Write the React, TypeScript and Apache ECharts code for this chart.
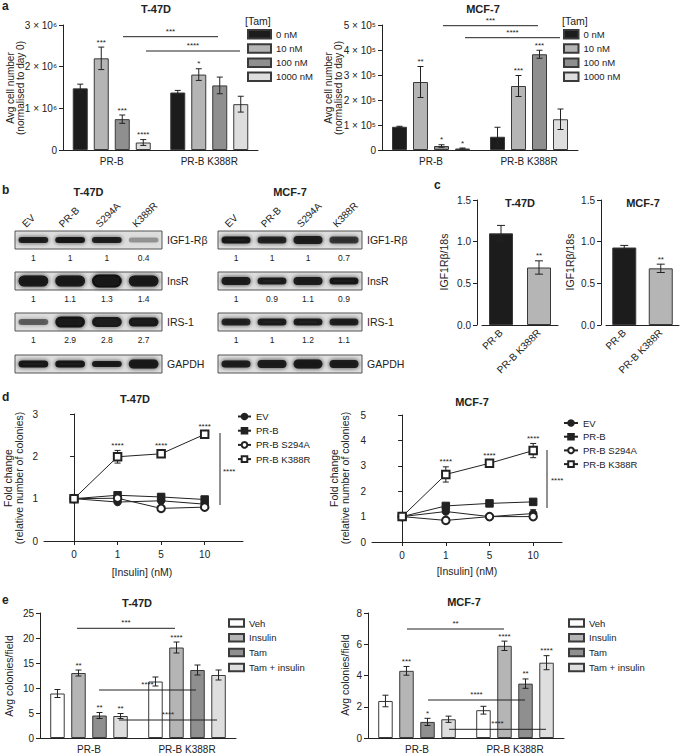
import React, { useEffect, useRef } from "react";
import * as echarts from "echarts";

const FONT = "'Liberation Sans', Arial, Helvetica, sans-serif";
const INK = "#222";

// ---------- panel a : cell number under tamoxifen ----------
const aGroups = ["PR-B", "PR-B K388R"];
const tamLevels = ["0 nM", "10 nM", "100 nM", "1000 nM"];
const tamColors = ["#1c1c1c", "#b5b5b5", "#8f8f8f", "#dedede"];
// per tamoxifen level: [PR-B, PR-B K388R]
const aT47Mean = [[1.48e6, 1.38e6], [2.2e6, 1.81e6], [0.74e6, 1.55e6], [0.18e6, 1.1e6]];
const aT47Err = [[0.1e6, 0.05e6], [0.27e6, 0.14e6], [0.1e6, 0.2e6], [0.07e6, 0.19e6]];
const aT47Stars = [["", ""], ["***", "*"], ["***", ""], ["****", ""]];
const aMcfMean = [[0.93e5, 0.53e5], [2.72e5, 2.56e5], [0.16e5, 3.83e5], [0.06e5, 1.23e5]];
const aMcfErr = [[0.02e5, 0.38e5], [0.62e5, 0.42e5], [0.05e5, 0.16e5], [0.02e5, 0.41e5]];
const aMcfStars = [["", ""], ["**", "***"], ["*", "***"], ["*", ""]];

// ---------- panel b : western blots ----------
const blotLanes = ["EV", "PR-B", "S294A", "K388R"];
const blotProteins = ["IGF1-Rβ", "InsR", "IRS-1", "GAPDH"];
const blotT47Quant = [[1, 1, 1, 0.4], [1, 1.1, 1.3, 1.4], [1, 2.9, 2.8, 2.7]];
const blotMcfQuant = [[1, 1, 1, 0.7], [1, 0.9, 1.1, 0.9], [1, 1, 1.2, 1.1]];

// ---------- panel c : IGF1Rβ mRNA ----------
const cGroups = ["PR-B", "PR-B K388R"];
const cColors = ["#1c1c1c", "#b5b5b5"];
const cT47Mean = [1.1, 0.69];
const cT47Err = [0.095, 0.08];
const cMcfMean = [0.93, 0.68];
const cMcfErr = [0.025, 0.05];
const cStars = ["", "**"];

// ---------- panel d : colony fold change vs insulin ----------
const insulinDoses = ["0", "1", "5", "10"];
const dSeriesNames = ["EV", "PR-B", "PR-B S294A", "PR-B K388R"];
const dSymbols = ["circle", "rect", "emptyCircle", "emptyRect"];
const dT47 = [[1, 0.92, 0.95, 0.87], [1, 1.08, 1.04, 0.98], [1, 1.01, 0.77, 0.8], [1, 1.99, 2.06, 2.52]];
const dT47Err = [[0.05, 0.04, 0.05, 0.04], [0.07, 0.05, 0.07, 0.05], [0.04, 0.03, 0.04, 0.04], [0.07, 0.15, 0.08, 0.06]];
const dT47Stars = ["", "****", "****", "****"];
const dMcf = [[1, 1.2, 1.0, 1.12], [1, 1.42, 1.52, 1.58], [1, 0.85, 1.0, 1.0], [1, 2.66, 3.1, 3.6]];
const dMcfErr = [[0.15, 0.08, 0.05, 0.15], [0.1, 0.08, 0.06, 0.06], [0.08, 0.06, 0.05, 0.05], [0.15, 0.3, 0.1, 0.28]];
const dMcfStars = ["", "****", "****", "****"];

// ---------- panel e : colonies per field ----------
const eGroups = ["PR-B", "PR-B K388R"];
const eTreatments = ["Veh", "Insulin", "Tam", "Tam + insulin"];
const eColors = ["#ffffff", "#b5b5b5", "#8f8f8f", "#dedede"];
const eT47Mean = [[8.9, 11.3], [13.0, 18.1], [4.5, 13.6], [4.4, 12.6]];
const eT47Err = [[0.8, 0.9], [0.6, 1.1], [0.6, 1.0], [0.5, 1.0]];
const eT47Stars = [["", ""], ["**", "****"], ["**", ""], ["**", ""]];
const eMcfMean = [[2.37, 1.78], [4.3, 5.9], [1.03, 3.48], [1.2, 4.82]];
const eMcfErr = [[0.37, 0.25], [0.28, 0.3], [0.23, 0.3], [0.2, 0.45]];
const eMcfStars = [["", ""], ["***", "****"], ["*", "**"], ["", "****"]];

// ---------- helpers ----------
type TxtOpts = { size?: number; bold?: boolean; align?: string; va?: string; rot?: number };
function txt(x: number, y: number, text: string, o: TxtOpts = {}) {
  return {
    type: "text",
    x,
    y,
    z: 100,
    rotation: o.rot ?? 0,
    silent: true,
    style: {
      text,
      fill: INK,
      fontFamily: FONT,
      fontSize: o.size ?? 10,
      fontWeight: o.bold ? "bold" : "normal",
      align: o.align ?? "center",
      verticalAlign: o.va ?? "middle",
    },
  };
}
function seg(x1: number, y1: number, x2: number, y2: number, w = 1) {
  return { type: "line", z: 100, silent: true, shape: { x1, y1, x2, y2 }, style: { stroke: INK, lineWidth: w } };
}
function bracket(x1: number, x2: number, y: number, label: string) {
  return [seg(x1, y, x2, y), txt((x1 + x2) / 2, y - 1.5, label, { size: 8, va: "bottom" })];
}

function errSeries(ax: number, means: number[], errs: number[], stars: string[], dx: number, cap: number, z = 5) {
  return {
    type: "custom",
    xAxisIndex: ax,
    yAxisIndex: ax,
    z,
    silent: true,
    clip: false,
    data: means.map((m, i) => [i, m, errs[i]]),
    encode: { x: 0, y: 1 },
    renderItem: (params: any, api: any) => {
      const i = api.value(0);
      const m = api.value(1);
      const e = api.value(2);
      const pTop = api.coord([i, m + e]);
      const pBot = api.coord([i, Math.max(m - e, 0)]);
      const x = pTop[0] + dx;
      const ls = { stroke: INK, lineWidth: 1 };
      const children: any[] = [
        { type: "line", shape: { x1: x, y1: pTop[1], x2: x, y2: pBot[1] }, style: ls },
        { type: "line", shape: { x1: x - cap, y1: pTop[1], x2: x + cap, y2: pTop[1] }, style: ls },
        { type: "line", shape: { x1: x - cap, y1: pBot[1], x2: x + cap, y2: pBot[1] }, style: ls },
      ];
      const s = stars[params.dataIndex];
      if (s) {
        children.push({
          type: "text",
          x,
          y: pTop[1] - 1,
          style: { text: s, fill: INK, fontFamily: FONT, fontSize: 8, align: "center", verticalAlign: "bottom" },
        });
      }
      return { type: "group", children };
    },
  };
}

const BLOT_TOPS = [231, 272, 313, 355];
const BLOT_H = 18;
// band look per row, per lane: [thickness px, darkness]
const T47_BANDS = [
  [[6, 0.85], [6, 0.9], [6, 0.85], [5, 0.3]],
  [[11, 0.95], [11, 0.95], [13, 0.97], [11, 0.95]],
  [[6, 0.55], [11, 0.9], [10, 0.88], [9, 0.88]],
  [[7, 0.9], [7, 0.9], [6, 0.88], [9, 0.95]],
];
const MCF_BANDS = [
  [[7, 0.9], [7, 0.82], [8, 0.92], [7, 0.72]],
  [[8, 0.92], [7, 0.86], [8, 0.92], [7, 0.9]],
  [[7, 0.82], [7, 0.86], [7, 0.86], [7, 0.84]],
  [[7, 0.92], [8, 0.92], [9, 0.95], [8, 0.92]],
];

function blot(x0: number, w: number, title: string, bands: number[][][], quant: number[][]) {
  const els: any[] = [];
  const laneW = w / blotLanes.length;
  els.push(txt(x0 + w / 2, 192, title, { bold: true, size: 11 }));
  blotLanes.forEach((ln, i) => {
    const cx = x0 + laneW * (i + 0.5);
    els.push(txt(cx - 6, 229, ln, { align: "left", va: "bottom", rot: Math.PI / 4, size: 10 }));
  });
  blotProteins.forEach((p, r) => {
    const top = BLOT_TOPS[r];
    els.push({
      type: "rect",
      silent: true,
      shape: { x: x0, y: top, width: w, height: BLOT_H },
      style: { fill: "#dedede", stroke: "#555", lineWidth: 1 },
    });
    bands[r].forEach(([h, op], i) => {
      const cx = x0 + laneW * (i + 0.5);
      const bw = laneW - 7;
      const col = `rgba(18,18,18,${op})`;
      els.push({
        type: "rect",
        silent: true,
        shape: { x: cx - bw / 2, y: top + BLOT_H / 2 - h / 2, width: bw, height: h, r: h / 2 },
        style: { fill: col, shadowBlur: 4, shadowColor: col },
      });
    });
    els.push(txt(x0 + w + 5, top + BLOT_H / 2, p, { align: "left", size: 10.5 }));
    if (r < quant.length) {
      quant[r].forEach((q, i) => els.push(txt(x0 + laneW * (i + 0.5), top + BLOT_H + 9, String(q), { size: 8.5 })));
    }
  });
  return els;
}

const axisLineCfg = { lineStyle: { color: INK, width: 1 } };
const tickCfg = { length: 4, lineStyle: { color: INK, width: 1 } };
const labelCfg = { color: INK, fontSize: 10, fontFamily: FONT };

function catX(grid: number, data: string[], rotate = 0) {
  return {
    type: "category",
    gridIndex: grid,
    data,
    axisLine: axisLineCfg,
    axisTick: { ...tickCfg, alignWithLabel: true },
    axisLabel: { ...labelCfg, margin: 6, rotate, interval: 0 },
    splitLine: { show: false },
  };
}
function valY(grid: number, min: number, max: number, interval: number, formatter?: any, offset = 0) {
  return {
    type: "value",
    gridIndex: grid,
    min,
    max,
    interval,
    offset,
    axisLine: { show: true, ...axisLineCfg },
    axisTick: { show: true, ...tickCfg },
    axisLabel: { ...labelCfg, margin: 6, formatter },
    splitLine: { show: false },
  };
}
function doseX(grid: number, max: number) {
  return {
    type: "value",
    gridIndex: grid,
    min: -0.69,
    max,
    axisLine: axisLineCfg,
    axisTick: { show: true, ...tickCfg, customValues: [0, 1, 2, 3] },
    axisLabel: { ...labelCfg, margin: 8, customValues: [0, 1, 2, 3], formatter: (v: number) => insulinDoses[Math.round(v)] ?? "" },
    splitLine: { show: false },
  };
}

function barSet(ax: number, names: string[], colors: string[], means: number[][], errs: number[][], stars: string[][], bw: number, gapFrac: number, cap: number) {
  const out: any[] = [];
  const step = bw * (1 + gapFrac);
  const n = names.length;
  names.forEach((nm, k) => {
    out.push({
      type: "bar",
      name: nm,
      xAxisIndex: ax,
      yAxisIndex: ax,
      data: means[k],
      barWidth: bw,
      barGap: `${gapFrac * 100}%`,
      itemStyle: { color: colors[k], borderColor: "#3a3a3a", borderWidth: 1 },
      z: 2,
    });
  });
  names.forEach((nm, k) => {
    const dx = (k - (n - 1) / 2) * step;
    out.push(errSeries(ax, means[k], errs[k], stars[k], dx, cap));
  });
  return out;
}

function lineSet(ax: number, vals: number[][], errs: number[][], stars: string[]) {
  const out: any[] = [];
  dSeriesNames.forEach((nm, k) => {
    out.push({
      type: "line",
      name: nm,
      xAxisIndex: ax,
      yAxisIndex: ax,
      data: vals[k].map((v, i) => [i, v]),
      symbol: dSymbols[k],
      symbolSize: 7.5,
      z: 4 + k,
      lineStyle: { color: INK, width: 1 },
      itemStyle: { color: INK, borderColor: INK, borderWidth: 1 },
    });
    out.push(errSeries(ax, vals[k], errs[k], k === 3 ? stars : ["", "", "", ""], 0, 3, 3));
  });
  return out;
}

function legendCfg(data: string[], left: number, top: number, w: number, h: number, gap: number, icon?: string, textGap = 5) {
  return {
    data,
    left,
    top,
    orient: "vertical",
    padding: 0,
    itemWidth: w,
    itemHeight: h,
    itemGap: gap,
    itemTextGap: textGap,
    icon,
    selectedMode: false,
    textStyle: { color: INK, fontSize: 9.5, fontFamily: FONT },
  };
}

function buildOption() {
  const grids = [
    { left: 63, top: 25, width: 195, height: 125 },
    { left: 382, top: 25, width: 196, height: 125 },
    { left: 482, top: 200, width: 76, height: 125 },
    { left: 606, top: 200, width: 73, height: 125 },
    { left: 44, top: 414, width: 199, height: 127 },
    { left: 372, top: 415, width: 190, height: 127 },
    { left: 40, top: 613, width: 196, height: 125 },
    { left: 368, top: 613, width: 196, height: 125 },
  ].map((g) => ({ ...g, containLabel: false, outerBoundsMode: "none" }));

  const xAxis = [
    catX(0, aGroups),
    catX(1, aGroups),
    catX(2, cGroups, 45),
    catX(3, cGroups, 45),
    doseX(4, 3.88),
    doseX(5, 3.66),
    catX(6, eGroups),
    catX(7, eGroups),
  ];
  const yAxis = [
    valY(0, 0, 3e6, 1e6, (v: number) => (v === 0 ? "0" : `${Math.round(v / 1e6)} × 10⁶`)),
    valY(1, 0, 5e5, 1e5, (v: number) => (v === 0 ? "0" : `${Math.round(v / 1e5)} × 10⁵`)),
    valY(2, 0, 1.5, 0.5, (v: number) => v.toFixed(1), 5),
    valY(3, 0, 1.5, 0.5, (v: number) => v.toFixed(1), 5),
    valY(4, 0, 3, 1),
    valY(5, 0, 5, 1),
    valY(6, 0, 25, 5),
    valY(7, 0, 8, 2),
  ];

  const series: any[] = [
    ...barSet(0, tamLevels, tamColors, aT47Mean, aT47Err, aT47Stars, 15, 0.4, 3),
    ...barSet(1, tamLevels, tamColors, aMcfMean, aMcfErr, aMcfStars, 15, 0.4, 3),
    {
      type: "bar",
      xAxisIndex: 2,
      yAxisIndex: 2,
      barWidth: 24,
      data: cT47Mean.map((v, i) => ({ value: v, itemStyle: { color: cColors[i] } })),
      itemStyle: { borderColor: "#3a3a3a", borderWidth: 1 },
    },
    errSeries(2, cT47Mean, cT47Err, cStars, 0, 4),
    {
      type: "bar",
      xAxisIndex: 3,
      yAxisIndex: 3,
      barWidth: 24,
      data: cMcfMean.map((v, i) => ({ value: v, itemStyle: { color: cColors[i] } })),
      itemStyle: { borderColor: "#3a3a3a", borderWidth: 1 },
    },
    errSeries(3, cMcfMean, cMcfErr, cStars, 0, 4),
    ...lineSet(4, dT47, dT47Err, dT47Stars),
    ...lineSet(5, dMcf, dMcfErr, dMcfStars),
    ...barSet(6, eTreatments, eColors, eT47Mean, eT47Err, eT47Stars, 14.5, 0.45, 3),
    ...barSet(7, eTreatments, eColors, eMcfMean, eMcfErr, eMcfStars, 14.5, 0.45, 3),
  ];

  const legend = [
    legendCfg(tamLevels, 247, 29, 23, 8.5, 3.7, "rect"),
    legendCfg(tamLevels, 563, 29, 14.5, 8.5, 3.7, "rect"),
    legendCfg(dSeriesNames, 237, 411.5, 13, 7, 4.2, undefined, 4),
    legendCfg(dSeriesNames, 563, 418, 14, 7, 3.7),
    legendCfg(eTreatments, 228, 618, 15, 7.5, 4.8, "rect"),
    legendCfg(eTreatments, 568, 618, 15, 7.5, 4.8, "rect"),
  ];

  const g: any[] = [
    // panel letters
    txt(2, 6, "a", { bold: true, size: 12, align: "left" }),
    txt(2, 190, "b", { bold: true, size: 12, align: "left" }),
    txt(434, 185, "c", { bold: true, size: 12, align: "left" }),
    txt(2, 397, "d", { bold: true, size: 12, align: "left" }),
    txt(2, 600, "e", { bold: true, size: 12, align: "left" }),
    // titles
    txt(156, 8.5, "T-47D", { bold: true, size: 11 }),
    txt(483, 8.5, "MCF-7", { bold: true, size: 11 }),
    txt(520, 203, "T-47D", { bold: true, size: 11 }),
    txt(643, 203, "MCF-7", { bold: true, size: 11 }),
    txt(135, 399, "T-47D", { bold: true, size: 11 }),
    txt(472, 402, "MCF-7", { bold: true, size: 11 }),
    txt(137, 603, "T-47D", { bold: true, size: 11 }),
    txt(464, 602, "MCF-7", { bold: true, size: 11 }),
    // legend headers
    txt(245, 21, "[Tam]", { align: "left", size: 10.5 }),
    txt(562, 21, "[Tam]", { align: "left", size: 10.5 }),
    // y-axis names
    txt(15, 88, "Avg cell number\n(normalised to day 0)", { rot: Math.PI / 2 }),
    txt(333, 88, "Avg cell number\n(normalised to day 0)", { rot: Math.PI / 2 }),
    txt(444, 262, "IGF1Rβ/18s", { rot: Math.PI / 2, size: 10.5 }),
    txt(570, 262, "IGF1Rβ/18s", { rot: Math.PI / 2, size: 10.5 }),
    txt(13, 478, "Fold change\n(relative number of colonies)", { rot: Math.PI / 2, size: 10.5 }),
    txt(339, 478, "Fold change\n(relative number of colonies)", { rot: Math.PI / 2, size: 10.5 }),
    txt(9, 676, "Avg colonies/field", { rot: Math.PI / 2, size: 10.5 }),
    txt(345, 675, "Avg colonies/field", { rot: Math.PI / 2, size: 10.5 }),
    // x-axis names
    txt(142, 572, "[Insulin] (nM)", { size: 10.5 }),
    txt(467, 571, "[Insulin] (nM)", { size: 10.5 }),
    // comparison brackets
    ...bracket(123, 218, 36.7, "***"),
    ...bracket(146, 240, 51, "****"),
    ...bracket(443, 538, 25.7, "***"),
    ...bracket(465, 560, 37.7, "****"),
    ...bracket(77, 175, 628.3, "***"),
    ...bracket(99, 196, 690, "****"),
    ...bracket(119, 217, 720, "****"),
    ...bracket(407, 504, 629, "**"),
    ...bracket(428, 525, 700, "****"),
    ...bracket(449, 546, 729.3, "****"),
    seg(220, 433, 220, 505),
    txt(223, 471, "****", { size: 8, align: "left" }),
    seg(547, 450, 547, 508),
    txt(551, 480, "****", { size: 8, align: "left" }),
    // blots
    ...blot(15, 147, "T-47D", T47_BANDS, blotT47Quant),
    ...blot(218, 144, "MCF-7", MCF_BANDS, blotMcfQuant),
  ];

  return {
    animation: false,
    backgroundColor: "#ffffff",
    textStyle: { fontFamily: FONT },
    grid: grids,
    xAxis,
    yAxis,
    legend,
    series,
    graphic: { elements: g },
  };
}

export default function App() {
  const ref = useRef<HTMLDivElement>(null);
  useEffect(() => {
    document.body.style.margin = "0";
    if (!ref.current) return;
    const chart = echarts.init(ref.current, undefined, { renderer: "svg" });
    chart.setOption(buildOption() as any);
    return () => chart.dispose();
  }, []);
  return <div ref={ref} style={{ width: 685, height: 756 }} />;
}
